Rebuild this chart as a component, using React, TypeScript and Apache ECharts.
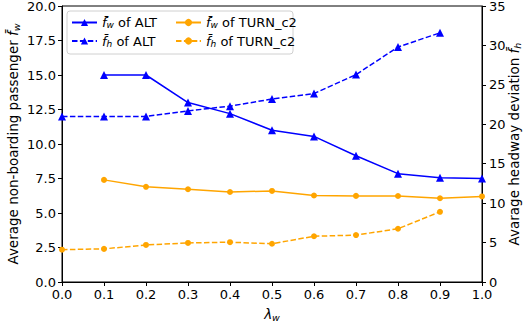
import React, { useEffect, useRef } from "react";
import * as echarts from "echarts";

const lambdas = [0.0, 0.1, 0.2, 0.3, 0.4, 0.5, 0.6, 0.7, 0.8, 0.9, 1.0];
// f_w (left axis), starting at lambda 0.1
const altFw = [15.0, 15.0, 13.0, 12.2, 11.0, 10.55, 9.15, 7.85, 7.55, 7.5];
const turnFw = [7.4, 6.9, 6.72, 6.52, 6.6, 6.27, 6.24, 6.23, 6.07, 6.2];
// f_h (right axis), lambda 0.0 .. 0.9
const altFh = [21.0, 21.0, 21.0, 21.7, 22.3, 23.2, 23.9, 26.3, 29.8, 31.6];
const turnFh = [4.1, 4.2, 4.7, 4.95, 5.05, 4.85, 5.8, 5.95, 6.75, 8.9];

const xTicks = [0, 1];
const leftTicks = [0, 20];
const rightTicks = [0, 35];

const BLUE = "#0000ff";
const ORANGE = "#ffa500";
const FONT = "DejaVu Sans";

const pairs = (xs: number[], ys: number[], offset: number) =>
  ys.map((v, i) => [xs[i + offset], v]);

const rich = {
  t: { fontFamily: FONT, fontSize: 13, color: "#000" },
  f: { fontFamily: FONT, fontSize: 13, fontStyle: "italic", color: "#000" },
  s: { fontFamily: FONT, fontSize: 9, fontStyle: "italic", color: "#000", verticalAlign: "bottom", padding: [5, 0, 0, 0] },
};

const nameRich = {
  t: { fontFamily: FONT, fontSize: 13.5, color: "#000" },
  f: { fontFamily: FONT, fontSize: 13.5, fontStyle: "italic", color: "#000" },
  s: { fontFamily: FONT, fontSize: 9.5, fontStyle: "italic", color: "#000", verticalAlign: "bottom", padding: [6, 0, 0, 0] },
};

const labelMap: Record<string, string> = {
  altFw: "{f|f\u0304}{s|w}{t| of ALT}",
  altFh: "{f|f\u0304}{s|h}{t| of ALT}",
  turnFw: "{f|f\u0304}{s|w}{t| of TURN_c2}",
  turnFh: "{f|f\u0304}{s|h}{t| of TURN_c2}",
};

export default function App() {
  const ref = useRef<HTMLDivElement>(null);
  useEffect(() => {
    if (!ref.current) return;
    const chart = echarts.init(ref.current, undefined, { renderer: "svg" });
    const dash = [5.5, 2.4];
    const legendCommon = {
      orient: "vertical" as const,
      top: 16,
      itemWidth: 25,
      itemHeight: 9,
      itemGap: 5,
      padding: 0,
      formatter: (n: string) => labelMap[n],
      textStyle: { rich, fontFamily: FONT, fontSize: 13 },
    };
    chart.setOption({
      animation: false,
      backgroundColor: "#fff",
      textStyle: { fontFamily: FONT },
      grid: {
        left: 62,
        right: 42,
        top: 6,
        bottom: 46,
        outerBoundsMode: "none",
        containLabel: false,
        show: true,
        borderColor: "#000",
        borderWidth: 1,
        backgroundColor: "transparent",
      },
      graphic: [
        {
          type: "rect",
          shape: { x: 67, y: 11, width: 226, height: 43, r: 3 },
          style: { fill: "rgba(255,255,255,0.8)", stroke: "#d0d0d0", lineWidth: 1 },
          z: 10,
        },
      ],
      legend: [
        { ...legendCommon, left: 71, data: ["altFw", "altFh"], z: 20 },
        { ...legendCommon, left: 175, data: ["turnFw", "turnFh"], z: 20 },
      ],
      xAxis: {
        type: "value",
        min: xTicks[0],
        max: xTicks[1],
        interval: 0.1,
        name: "{l|λ}{s|w}",
        nameLocation: "middle",
        nameGap: 24,
        nameMoveOverlap: false,
        nameTextStyle: {
          rich: {
            l: { fontFamily: FONT, fontSize: 13.5, fontStyle: "italic", color: "#000" },
            s: { fontFamily: FONT, fontSize: 9.5, fontStyle: "italic", color: "#000", verticalAlign: "bottom", padding: [6, 0, 0, 0] },
          },
        },
        axisLine: { lineStyle: { color: "#000", width: 1 } },
        axisTick: { inside: false, length: 4, lineStyle: { color: "#000" } },
        axisLabel: { color: "#000", fontSize: 13, fontFamily: FONT, margin: 6, formatter: (v: number) => v.toFixed(1) },
        splitLine: { show: false },
      },
      yAxis: [
        {
          type: "value",
          min: leftTicks[0],
          max: leftTicks[1],
          interval: 2.5,
          name: "{t|Average non-boarding passenger }{f|f\u0304}{s|w}",
          nameLocation: "middle",
          nameRotate: 90,
          nameGap: 41,
          nameMoveOverlap: false,
          nameTextStyle: { rich: nameRich },
          axisLine: { show: true, lineStyle: { color: "#000" } },
          axisTick: { show: true, inside: false, length: 4, lineStyle: { color: "#000" } },
          axisLabel: { color: "#000", fontSize: 13, fontFamily: FONT, margin: 6, formatter: (v: number) => v.toFixed(1) },
          splitLine: { show: false },
        },
        {
          type: "value",
          min: rightTicks[0],
          max: rightTicks[1],
          interval: 5,
          position: "right",
          name: "{t|Avarage headway deviation }{f|f\u0304}{s|h}",
          nameLocation: "middle",
          nameRotate: 90,
          nameGap: 24,
          nameMoveOverlap: false,
          nameTextStyle: { rich: nameRich },
          axisLine: { show: true, lineStyle: { color: "#000" } },
          axisTick: { show: true, inside: false, length: 4, lineStyle: { color: "#000" } },
          axisLabel: { color: "#000", fontSize: 13, fontFamily: FONT, margin: 7 },
          splitLine: { show: false },
        },
      ],
      series: [
        {
          name: "altFw",
          type: "line",
          yAxisIndex: 0,
          data: pairs(lambdas, altFw, 1),
          symbol: "triangle",
          symbolSize: 8,
          color: BLUE,
          lineStyle: { width: 1.5, color: BLUE },
          itemStyle: { color: BLUE },
        },
        {
          name: "altFh",
          type: "line",
          yAxisIndex: 1,
          data: pairs(lambdas, altFh, 0),
          symbol: "triangle",
          symbolSize: 8,
          color: BLUE,
          lineStyle: { width: 1.5, color: BLUE, type: dash },
          itemStyle: { color: BLUE },
        },
        {
          name: "turnFw",
          type: "line",
          yAxisIndex: 0,
          data: pairs(lambdas, turnFw, 1),
          symbol: "circle",
          symbolSize: 6,
          color: ORANGE,
          lineStyle: { width: 1.5, color: ORANGE },
          itemStyle: { color: ORANGE },
        },
        {
          name: "turnFh",
          type: "line",
          yAxisIndex: 1,
          data: pairs(lambdas, turnFh, 0),
          symbol: "circle",
          symbolSize: 6,
          color: ORANGE,
          lineStyle: { width: 1.5, color: ORANGE, type: dash },
          itemStyle: { color: ORANGE },
        },
      ],
    });
    return () => chart.dispose();
  }, []);
  return <div ref={ref} style={{ width: 524, height: 328, position: "absolute", left: 0, top: 0 }} />;
}
